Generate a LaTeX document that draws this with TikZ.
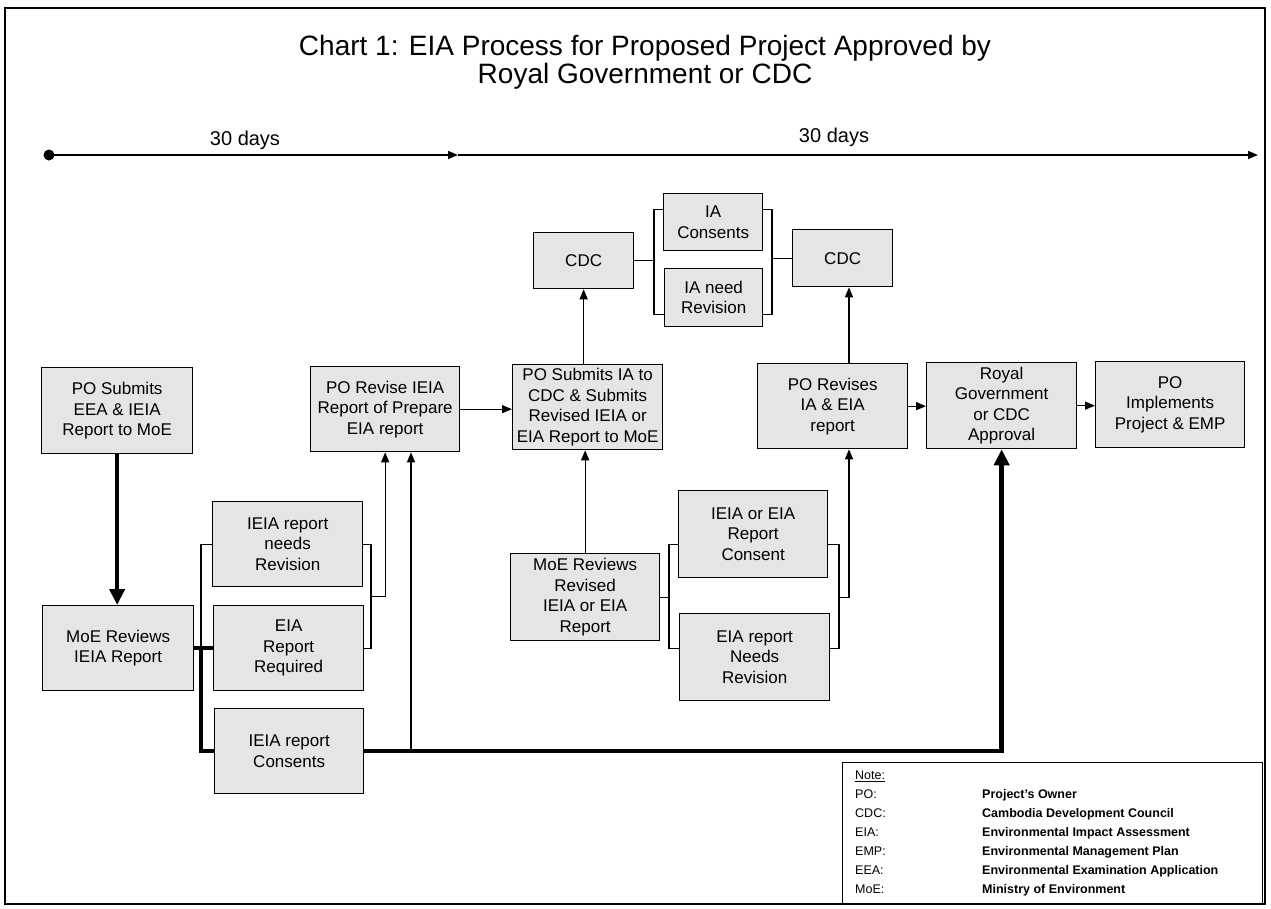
\documentclass[tikz,border=0pt]{standalone}
\usepackage{fontspec}
\setmainfont{Liberation Sans}
\usetikzlibrary{arrows.meta,calc}
\definecolor{boxgray}{gray}{0.90}
\begin{document}
\begin{tikzpicture}[x=1pt,y=-1pt,
  box/.style={draw=black, line width=1.3pt, fill=boxgray, inner sep=0pt,
    align=center, anchor=north west, font=\fontsize{17}{20.5}\selectfont},
  link/.style={line width=1.3pt},
  heavy/.style={line width=4.5pt},
  arr/.style={link, -{Triangle[length=10pt,width=8pt]}},
  heavyarr/.style={heavy, -{Triangle[length=16pt,width=15pt]}},
  lbl/.style={anchor=base, inner sep=0pt}
]
\useasboundingbox (0,0) rectangle (1271,908);
% outer frame
\draw[line width=1.5pt] (5,8) rectangle (1265,904);

% title
\node[lbl, font=\fontsize{28}{28}\selectfont] (ttl1) at (645,55) {Chart 1: EIA Process for Proposed Project Approved by};
\node[lbl, font=\fontsize{28}{28}\selectfont] (ttl2) at (645,83) {Royal Government or CDC};

% time line
\node[circle, fill=black, inner sep=0pt, minimum size=11pt] (t0) at (49,155) {};
\coordinate (tm) at (458,155);
\coordinate (t1) at (1258,155);
\draw[arr, line width=1.5pt] (t0.center) -- (tm);
\draw[arr, line width=1.5pt] (tm) -- (t1);
\node[lbl, font=\fontsize{20}{24}\selectfont] (d1) at (245,145) {30 days};
\node[lbl, font=\fontsize{20}{24}\selectfont] (d2) at (834,142) {30 days};

% process boxes
\node[box, minimum width=151pt, minimum height=86pt] (A) at (41,367) {PO Submits\\EEA \& IEIA\\Report to MoE};
\node[box, minimum width=149pt, minimum height=85pt] (B) at (310,366) {PO Revise IEIA\\Report of Prepare\\EIA report};
\node[box, minimum width=150pt, minimum height=85pt] (C) at (512,364) {PO Submits IA to\\CDC \& Submits\\Revised IEIA or\\EIA Report to MoE};
\node[box, minimum width=100pt, minimum height=56pt] (D) at (533,232) {CDC};
\node[box, minimum width=99pt, minimum height=57pt] (E) at (663,193) {IA\\Consents};
\node[box, minimum width=98pt, minimum height=58pt] (F) at (664,268) {IA need\\Revision};
\node[box, minimum width=100pt, minimum height=57pt] (G) at (792,229) {CDC};
\node[box, minimum width=150pt, minimum height=85pt] (H) at (757,363) {PO Revises\\IA \& EIA\\report};
\node[box, minimum width=150pt, minimum height=86pt] (I) at (926,362) {Royal\\Government\\or CDC\\Approval};
\node[box, minimum width=149pt, minimum height=86pt] (J) at (1095,361) {PO\\Implements\\Project \& EMP};
\node[box, minimum width=151pt, minimum height=85pt] (K) at (42,605) {MoE Reviews\\IEIA Report};
\node[box, minimum width=150pt, minimum height=85pt] (L) at (212,501) {IEIA report\\needs\\Revision};
\node[box, minimum width=150pt, minimum height=85pt] (M) at (213,605) {EIA\\Report\\Required};
\node[box, minimum width=149pt, minimum height=85pt] (N) at (214,708) {IEIA report\\Consents};
\node[box, minimum width=149pt, minimum height=87pt] (O) at (510,553) {MoE Reviews\\Revised\\IEIA or EIA\\Report};
\node[box, minimum width=149pt, minimum height=87pt] (P) at (678,490) {IEIA or EIA\\Report\\Consent};
\node[box, minimum width=150pt, minimum height=87pt] (Q) at (679,613) {EIA report\\Needs\\Revision};

% bracket and branch columns
\coordinate (jl) at (201,0);
\coordinate (jr) at (371,0);
\coordinate (bx2) at (411,0);
\coordinate (jd) at (654,0);
\coordinate (je) at (772,0);
\coordinate (jo) at (669,0);
\coordinate (jp) at (839,0);
\coordinate (hx) at (849,0);

% first review
\draw[heavyarr] (A.south) -- (A.south |- K.north);
\draw[heavy] (K.east) -- (M.west);
\draw[link] (L.west) -- (L.west -| jl) -- (K.east -| jl);
\draw[heavy] (K.east -| jl) -- (N.west -| jl) -- (N.west);
\draw[link] (L.east) -- (L.east -| jr) -- (M.east -| jr) -- (M.east);
\draw[arr] ($(L.east -| jr)!0.5!(M.east -| jr)$) -| (B.south);
\draw[arr] (N.east -| bx2) -- (B.south -| bx2);
\draw[heavyarr] (N.east) -| (I.south);

% revision and submission to CDC
\draw[arr] (B.east) -- (B.east -| C.west);
\draw[arr] (D.south |- C.north) -- (D.south);
\draw[link] (D.east) -- (D.east -| jd);
\draw[link] ([yshift=12.5pt]E.west) -- ([yshift=12.5pt]E.west -| jd) -- ([yshift=-17pt]F.west -| jd) -- ([yshift=-17pt]F.west);
\draw[link] ([yshift=12.5pt]E.east) -- ([yshift=12.5pt]E.east -| je) -- ([yshift=-17pt]F.east -| je) -- ([yshift=-17pt]F.east);
\draw[link] (G.west -| je) -- (G.west);

% second review
\draw[arr] (O.north) -- (O.north |- C.south);
\draw[link] (O.east) -- (O.east -| jo);
\draw[link] ([yshift=-10.5pt]P.west) -- ([yshift=-10.5pt]P.west -| jo) -- ([yshift=8.5pt]Q.west -| jo) -- ([yshift=8.5pt]Q.west);
\draw[link] ([yshift=-10.5pt]P.east) -- ([yshift=-10.5pt]P.east -| jp) -- ([yshift=8.5pt]Q.east -| jp) -- ([yshift=8.5pt]Q.east);
\draw[arr] (O.east -| jp) -- (O.east -| hx) -- (H.south -| hx);
\draw[arr] (H.north -| hx) -- (G.south -| hx);

% approval
\draw[arr] (H.east) -- (H.east -| I.west);
\draw[arr] (I.east) -- (I.east -| J.west);

% abbreviations
\node[draw, line width=1.2pt, anchor=north west, minimum width=420pt, minimum height=141pt, inner sep=0pt] (note) at (842,762) {};
\node[anchor=north west, inner sep=0pt, font=\fontsize{12.5}{19}\selectfont] (notetext) at (855,766) {%
\begin{tabular}{@{}p{127pt}@{}l@{}}
\underline{Note:} & \\
PO: & \textbf{Project's Owner}\\
CDC: & \textbf{Cambodia Development Council}\\
EIA: & \textbf{Environmental Impact Assessment}\\
EMP: & \textbf{Environmental Management Plan}\\
EEA: & \textbf{Environmental Examination Application}\\
MoE: & \textbf{Ministry of Environment}
\end{tabular}};
\end{tikzpicture}
\end{document}
